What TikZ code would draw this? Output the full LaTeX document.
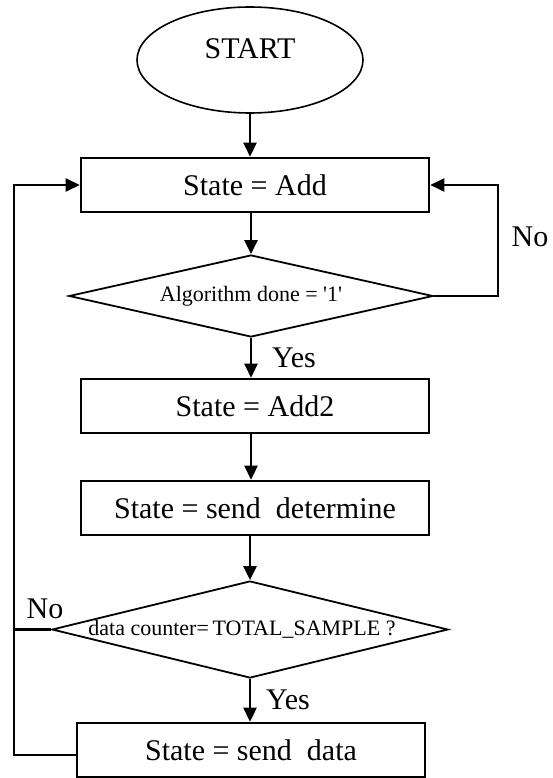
\documentclass[tikz,border=0pt]{standalone}
\usepackage{fontspec}
\setmainfont{Liberation Serif}
\usetikzlibrary{arrows.meta,shapes.geometric}

\begin{document}
\begin{tikzpicture}[x=1pt,y=-1pt,
  box/.style={draw, line width=2.6pt, minimum width=348pt, minimum height=54pt,
    inner sep=0pt, font=\fontsize{30}{36}\selectfont},
  decision/.style={draw, diamond, line width=1.8pt, inner sep=0pt,
    font=\fontsize{22}{26}\selectfont},
  terminal/.style={draw, ellipse, line width=1.6pt, minimum width=226pt,
    minimum height=106pt, inner sep=0pt},
  txt/.style={inner sep=0pt, font=\fontsize{30}{36}\selectfont},
  flow/.style={line width=2.6pt, -{Triangle[length=14pt,width=13pt]}},
  link/.style={line width=2.6pt},
]
\useasboundingbox (0,0) rectangle (552,778);

% blocks of the flow chart
\node[terminal] (start) at (250,60) {};
\node[txt] (starttext) at (250,49) {START};
\node[box] (add) at (255,185) {State = Add};
\node[decision, minimum width=364pt, minimum height=82pt, aspect=4.4] (d1) at (251,296)
  {Algorithm done = \textquotesingle 1\textquotesingle};
\node[box] (add2) at (255,406) {State = Add2};
\node[box] (det) at (255,508) {State = send~ determine};
\node[decision, minimum width=396pt, minimum height=97pt, aspect=4.1] (d2) at (250,629.5)
  {\hspace*{-16pt}data counter=\,TOTAL\_SAMPLE ?};
\node[box] (sd) at (251,750) {State = send~ data};

% left return rail
\coordinate (rail) at (14,185);

% main downward flow
\draw[flow] (start.south) -- (start.south |- add.north);
\draw[flow] (add.south -| d1.north) -- (d1.north);
\draw[flow] (d1.south) -- (d1.south |- add2.north);
\draw[flow] (add2.south -| d1.north) -- (d1.north |- det.north);
\draw[flow] (det.south -| d2.north) -- (d2.north);
\draw[flow] (d2.south) -- (d2.south |- sd.north);

% loop back when the algorithm is not done
\draw[flow] (d1.east) -- ++(64,0) |- (add.east);

% loop back from the data stage
\draw[flow] ([yshift=-5pt]sd.west) -| (rail) -- (add.west);
\draw[link] (d2.west) -- (d2.west -| rail);

% branch labels
\node[txt] (no1) at (530,237) {No};
\node[txt] (yes1) at (294,358) {Yes};
\node[txt] (no2) at (45,609) {No};
\node[txt] (yes2) at (288,700) {Yes};
\end{tikzpicture}
\end{document}
